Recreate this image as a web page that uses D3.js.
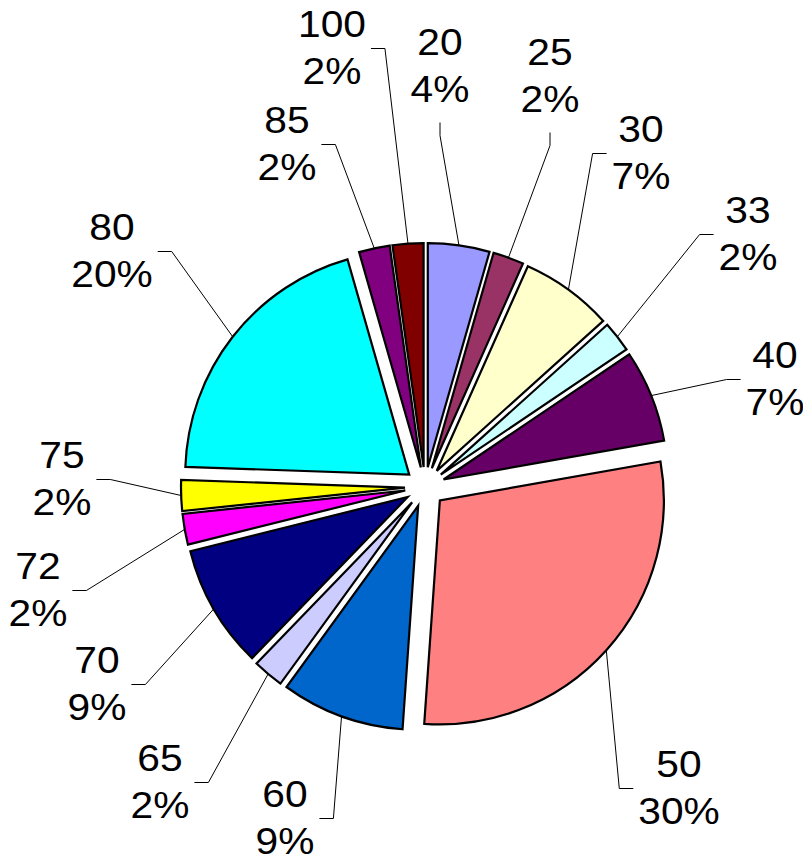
<!DOCTYPE html>
<html>
<head>
<meta charset="utf-8">
<script src="https://cdn.jsdelivr.net/npm/d3@7"></script>
<style>
  html, body { margin: 0; padding: 0; background: #fff; }
  svg { display: block; }
  text { font-family: "Liberation Sans", Arial, sans-serif; }
</style>
</head>
<body>
<svg id="chart" width="803" height="861"></svg>
<script>
// ---- data ----
const categories = ["20", "25", "30", "33", "40", "50", "60", "65", "70", "72", "75", "80", "85", "100"];
const values = [2, 1, 3, 1, 3, 13, 4, 1, 4, 1, 1, 9, 1, 1];
const percentLabels = ["4%", "2%", "7%", "2%", "7%", "30%", "9%", "2%", "9%", "2%", "2%", "20%", "2%", "2%"];
const colors = ["#9999FF", "#993366", "#FFFFCC", "#CCFFFF", "#660066", "#FF8080", "#0066CC",
                "#CCCCFF", "#000080", "#FF00FF", "#FFFF00", "#00FFFF", "#800080", "#800000"];

// ---- layout ----
const W = 803, H = 861;
const cx = 425, cy = 487, R = 224, explode = 20;
const fontSize = 37, stretch = 1.1, lineGap = 47.5;
// label centre x, first-line baseline y, side of the leader stub
const labelLayout = [
  {x: 440, y: 55,  stub: "b"},
  {x: 550, y: 65,  stub: "b"},
  {x: 641, y: 142, stub: "l"},
  {x: 748, y: 223, stub: "l"},
  {x: 775, y: 368, stub: "l"},
  {x: 679, y: 777, stub: "l"},
  {x: 285, y: 807, stub: "r"},
  {x: 160, y: 771, stub: "r"},
  {x: 97,  y: 673, stub: "r"},
  {x: 38,  y: 579, stub: "r"},
  {x: 62,  y: 468, stub: "r"},
  {x: 112, y: 240, stub: "r"},
  {x: 287, y: 133, stub: "r"},
  {x: 332, y: 37,  stub: "r"}
];

const svg = d3.select("#chart");
svg.append("rect").attr("width", W).attr("height", H).attr("fill", "#fff");

const pie = d3.pie().sort(null).value(d => d).startAngle(0).endAngle(2 * Math.PI);
const arcs = pie(values);
const arc = d3.arc().innerRadius(0).outerRadius(R);

const g = svg.append("g").attr("transform", `translate(${cx},${cy})`);

g.selectAll("path.slice")
  .data(arcs)
  .enter().append("path")
  .attr("class", "slice")
  .attr("transform", d => {
    const m = (d.startAngle + d.endAngle) / 2;
    return `translate(${explode * Math.sin(m)},${-explode * Math.cos(m)})`;
  })
  .attr("d", arc)
  .attr("fill", (d, i) => colors[i])
  .attr("stroke", "#000")
  .attr("stroke-width", 2.2)
  .attr("stroke-linejoin", "miter");

// ---- labels and leader lines ----
const labelG = svg.append("g");
arcs.forEach((d, i) => {
  const L = labelLayout[i];
  const t = labelG.append("g").attr("transform", `translate(${L.x},${L.y}) scale(${stretch},1)`);
  const t1 = t.append("text").attr("text-anchor", "middle").attr("font-size", fontSize)
    .attr("fill", "#000").text(categories[i]);
  const t2 = t.append("text").attr("text-anchor", "middle").attr("font-size", fontSize)
    .attr("y", lineGap).attr("fill", "#000").text(percentLabels[i]);
  const w = Math.max(t1.node().getComputedTextLength(), t2.node().getComputedTextLength()) * stretch;

  const m = (d.startAngle + d.endAngle) / 2;
  const ex = cx + (R + explode) * Math.sin(m);
  const ey = cy - (R + explode) * Math.cos(m);
  let p0, p1;
  if (L.stub === "r") {
    const sy = L.y + 11.5, sx = L.x + w / 2 + 5;
    p0 = [sx, sy]; p1 = [sx + 14, sy];
  } else if (L.stub === "l") {
    const sy = L.y + 11.5, sx = L.x - w / 2 - 5;
    p0 = [sx, sy]; p1 = [sx - 14, sy];
  } else {
    const sx = L.x, sy = L.y + lineGap + 20;
    p0 = [sx, sy]; p1 = [sx, sy + 13];
  }
  labelG.append("path")
    .attr("d", d3.line()([p0, p1, [ex, ey]]))
    .attr("fill", "none")
    .attr("stroke", "#000")
    .attr("stroke-width", 1);
});
</script>
</body>
</html>
